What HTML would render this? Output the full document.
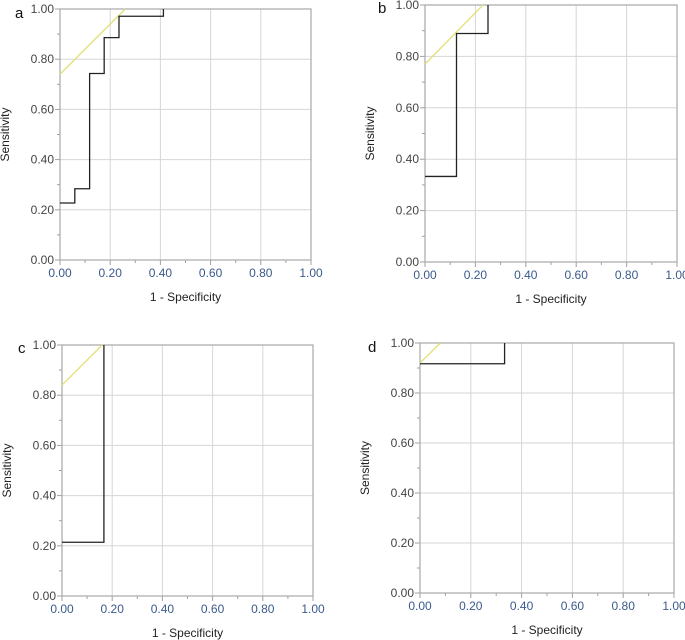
<!DOCTYPE html>
<html><head><meta charset="utf-8">
<style>
body{margin:0;background:#fff;width:685px;height:640px;overflow:hidden;}
svg{display:block;font-family:"Liberation Sans",sans-serif;}
</style></head>
<body>
<svg id="fig" width="685" height="640"></svg>
<script>
const ticks=[0,0.2,0.4,0.6,0.8,1.0];
const tickLabels=["0.00","0.20","0.40","0.60","0.80","1.00"];
const panelLabels=["a","b","c","d"];
const rocA_x=[0,0.059,0.059,0.118,0.118,0.176,0.176,0.235,0.235,0.412,0.412];
const rocA_y=[0.227,0.227,0.284,0.284,0.743,0.743,0.886,0.886,0.971,0.971,1];
const rocB_x=[0,0.125,0.125,0.25,0.25];
const rocB_y=[0.333,0.333,0.889,0.889,1];
const rocC_x=[0,0.167,0.167];
const rocC_y=[0.214,0.214,1];
const rocD_x=[0,0.333,0.333];
const rocD_y=[0.917,0.917,1];
const refA=[0.74,1];const refB=[0.77,1];const refC=[0.84,1];const refD=[0.92,1];
const NS="http://www.w3.org/2000/svg";
const svg=document.getElementById('fig');
const panels=[
 {box:[60,9,311,260],lab:[15,18],rx:rocA_x,ry:rocA_y,ref:refA},
 {box:[425,5,677,262],lab:[378,13],rx:rocB_x,ry:rocB_y,ref:refB},
 {box:[62,345,313,596],lab:[18,353],rx:rocC_x,ry:rocC_y,ref:refC},
 {box:[420,343,674,593],lab:[368,352],rx:rocD_x,ry:rocD_y,ref:refD}
];
function mk(tag,attrs,parent){const e=document.createElementNS(NS,tag);for(const k in attrs)e.setAttribute(k,attrs[k]);(parent||svg).appendChild(e);return e;}
panels.forEach((p,i)=>{
 const [x0,y0,x1,y1]=p.box;
 const sx=v=>x0+v*(x1-x0), sy=v=>y1-v*(y1-y0);
 const g=mk('g',{});
 
 
 ticks.forEach((t,k)=>{
  if(k>0&&k<5){
   mk('line',{x1:sx(t),x2:sx(t),y1:y0,y2:y1,stroke:'#d6d6d6','stroke-width':1},g);
   mk('line',{x1:x0,x2:x1,y1:sy(t),y2:sy(t),stroke:'#d6d6d6','stroke-width':1},g);
  }
 });
 for(let m=0;m<=10;m++){
  const t=m/10,len=(m%2==0)?5:3;
  mk('line',{x1:sx(t),x2:sx(t),y1:y1,y2:y1+len,stroke:'#a0a0a0'},g);
  mk('line',{x1:x0-len,x2:x0,y1:sy(t),y2:sy(t),stroke:'#a0a0a0'},g);
 }
 mk('rect',{x:x0,y:y0,width:x1-x0,height:y1-y0,fill:'none',stroke:'#a8a8a8','stroke-width':1.2},g);
 ticks.forEach((t,k)=>{
  const tx=mk('text',{x:sx(t),y:y1+17,'font-size':12,'text-anchor':'middle',fill:'#3a5a8c'},g);
  tx.textContent=tickLabels[k];
  
  
  const ty=mk('text',{x:x0-6,y:sy(t)+4,'font-size':12,'text-anchor':'end',fill:'#444'},g);
  ty.textContent=tickLabels[k];
  
  
 });
 const xl=mk('text',{x:(x0+x1)/2,y:y1+41,'font-size':12,'text-anchor':'middle',fill:'#222'},g);
 xl.textContent='1 - Specificity';
 
 
 const yc=(y0+y1)/2, yx=x0-51;
 const yl=mk('text',{x:yx,y:yc,'font-size':12,'text-anchor':'middle',fill:'#222',transform:`rotate(-90 ${yx} ${yc})`},g);
 yl.textContent='Sensitivity';
 
 
 const pl=mk('text',{x:p.lab[0],y:p.lab[1],'font-size':15,fill:'#111'},g);
 pl.textContent=panelLabels[i];
 
 
 const rl=mk('line',{x1:sx(0),y1:sy(p.ref[0]),x2:sx(p.ref[1]-p.ref[0]),y2:sy(p.ref[1]),stroke:'#e3e07a','stroke-width':1.3},g);
 
 
 let d='';
 p.rx.forEach((v,k)=>{d+=(k?'L':'M')+sx(v)+','+sy(p.ry[k]);});
 const path=mk('path',{d:d,fill:'none',stroke:'#222','stroke-width':1.3},g);
 
 
});
</script>
</body></html>
